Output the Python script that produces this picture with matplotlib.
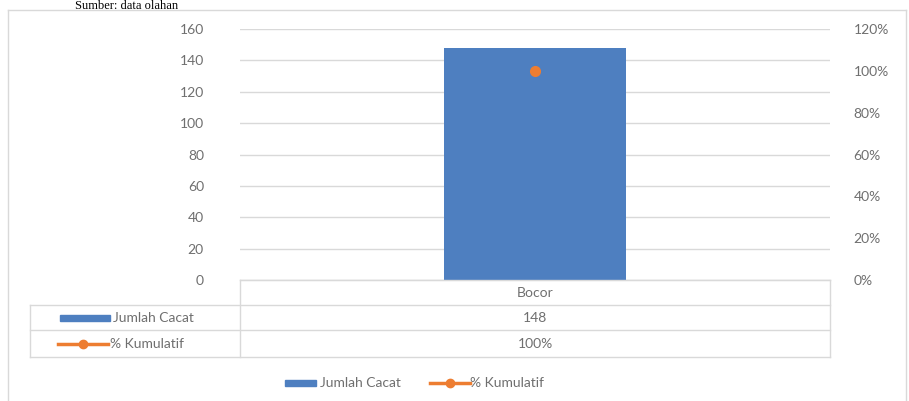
import matplotlib
matplotlib.use("Agg")
import matplotlib.pyplot as plt
from matplotlib.lines import Line2D
from matplotlib.patches import Rectangle

categories = ["Bocor"]
jumlah_cacat = [148]
kumulatif_pct = [100]
series_names = ["Jumlah Cacat", "% Kumulatif"]
left_ticks = [0, 20, 40, 60, 80, 100, 120, 140, 160]
right_ticks = [0, 20, 40, 60, 80, 100, 120]

W, H = 909, 401
BLUE = "#4e7fc0"
ORANGE = "#ed7d31"
GRID = "#d9d9d9"
TXT = "#6f6f6f"
FONT = "Lato"

fig = plt.figure(figsize=(W / 100, H / 100), dpi=100)

def fx(px):
    return px / W

def fy(py):
    return 1 - py / H

# outer frame
fig.add_artist(Line2D([fx(8), fx(8)], [fy(10), fy(401)], color=GRID, lw=1))
fig.add_artist(Line2D([fx(8), fx(906)], [fy(10), fy(10)], color=GRID, lw=1))
fig.add_artist(Line2D([fx(906), fx(906)], [fy(10), fy(401)], color=GRID, lw=1))

# source caption
fig.text(fx(75), fy(9), "Sumber: data olahan", family="Liberation Serif",
         fontsize=9, color="black", va="baseline", ha="left")

ax = fig.add_axes([fx(240), fy(280), fx(830) - fx(240), fy(29) - fy(280)])
x = list(range(len(categories)))
ax.bar(x, jumlah_cacat, width=0.31, color=BLUE, zorder=3)
ax.set_xlim(-0.5, len(categories) - 0.5)
ax.set_ylim(0, 160)
ax.set_yticks(left_ticks)
ax.set_yticklabels([str(t) for t in left_ticks], family=FONT, fontsize=10, color=TXT)
ax.tick_params(axis="y", length=0, pad=26)
ax.set_xticks([])
ax.grid(axis="y", color=GRID, lw=1, zorder=0)
for s in ["top", "right", "left"]:
    ax.spines[s].set_visible(False)
ax.spines["bottom"].set_color(GRID)

ax2 = ax.twinx()
ax2.plot(x, kumulatif_pct, color=ORANGE, marker="o", markersize=7, lw=2.5, zorder=4)
ax2.set_ylim(0, 120)
ax2.set_yticks(right_ticks)
ax2.set_yticklabels([f"{t}%" for t in right_ticks], family=FONT, fontsize=10, color=TXT)
ax2.tick_params(axis="y", length=0, pad=17)
for s in ["top", "right", "left", "bottom"]:
    ax2.spines[s].set_visible(False)

# data table
for (x0, x1, y) in [(240, 830, 280), (30, 830, 305), (30, 830, 330), (30, 830, 357)]:
    fig.add_artist(Line2D([fx(x0), fx(x1)], [fy(y), fy(y)], color=GRID, lw=1))
for (xx, y0, y1) in [(240, 280, 357), (830, 280, 357), (30, 305, 357)]:
    fig.add_artist(Line2D([fx(xx), fx(xx)], [fy(y0), fy(y1)], color=GRID, lw=1))

for i, c in enumerate(categories):
    cx = fx(240) + (fx(830) - fx(240)) * (i + 0.5) / len(categories)
    fig.text(cx, fy(293), c, family=FONT, fontsize=10, color=TXT, ha="center", va="center")
    fig.text(cx, fy(318), str(jumlah_cacat[i]), family=FONT, fontsize=10, color=TXT, ha="center", va="center")
    fig.text(cx, fy(344), f"{kumulatif_pct[i]}%", family=FONT, fontsize=10, color=TXT, ha="center", va="center")

# row labels with keys
fig.add_artist(Rectangle((fx(60), fy(321)), fx(110) - fx(60), fy(315) - fy(321), color=BLUE))
fig.text(fx(113), fy(318), series_names[0], family=FONT, fontsize=10, color=TXT, ha="left", va="center")
fig.add_artist(Line2D([fx(58), fx(108)], [fy(344), fy(344)], color=ORANGE, lw=2.5))
fig.add_artist(Line2D([fx(83)], [fy(344)], color=ORANGE, marker="o", markersize=6, lw=0))
fig.text(fx(110), fy(344), series_names[1], family=FONT, fontsize=10, color=TXT, ha="left", va="center")

# legend
fig.add_artist(Rectangle((fx(285), fy(386)), fx(316) - fx(285), fy(380) - fy(386), color=BLUE))
fig.text(fx(320), fy(383), series_names[0], family=FONT, fontsize=10, color=TXT, ha="left", va="center")
fig.add_artist(Line2D([fx(430), fx(470)], [fy(383), fy(383)], color=ORANGE, lw=2.5))
fig.add_artist(Line2D([fx(450)], [fy(383)], color=ORANGE, marker="o", markersize=6, lw=0))
fig.text(fx(470), fy(383), series_names[1], family=FONT, fontsize=10, color=TXT, ha="left", va="center")

fig.savefig("out.png", dpi=100)
